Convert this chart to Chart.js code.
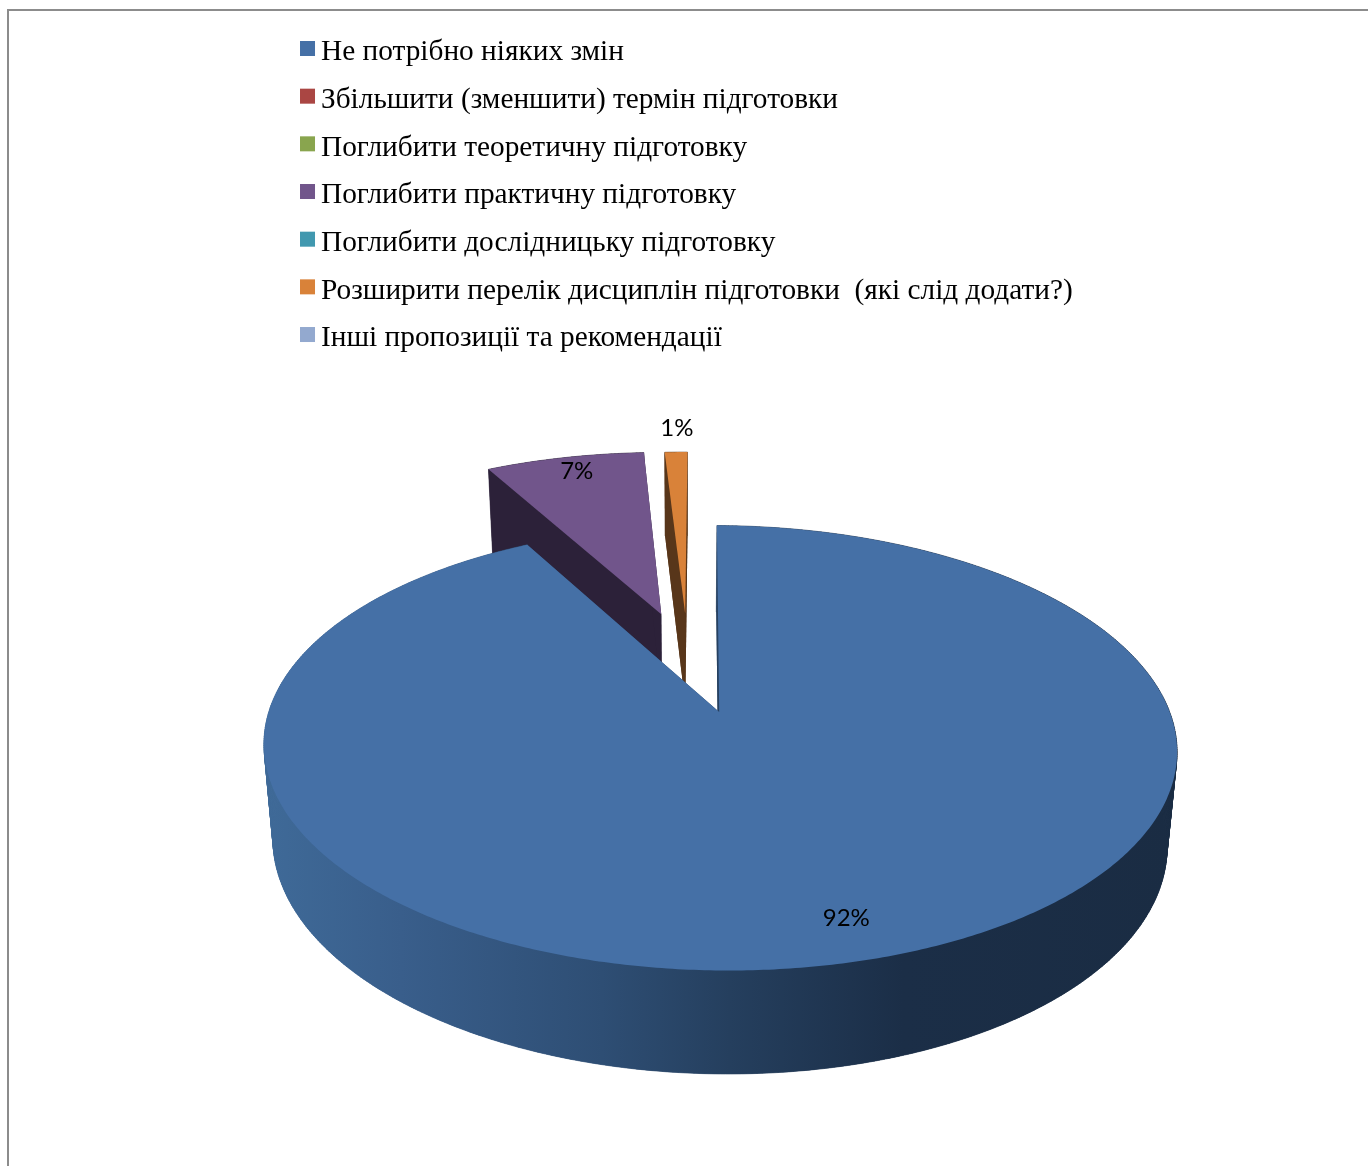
<!DOCTYPE html>
<html><head><meta charset="utf-8">
<style>html,body{margin:0;padding:0;background:#fff}canvas{display:block}</style>
<script src="https://cdn.jsdelivr.net/npm/chart.js@4"></script>
</head><body>
<canvas id="c" width="1368" height="1166"></canvas>
<script>
const categories = ["Не потрібно ніяких змін","Збільшити (зменшити) термін підготовки","Поглибити теоретичну підготовку","Поглибити практичну підготовку","Поглибити дослідницьку підготовку","Розширити перелік дисциплін підготовки  (які слід додати?)","Інші пропозиції та рекомендації"];
const percentValues = [92,0,0,7,0,1,0];
const sliceColors = ["#4570A6","#AA4643","#89A54E","#71558B","#4198AF","#D98239","#93A9CF"];
const wallColors = [null,"#552826","#44522A","#2C2139","#20505C","#58361A","#4A5568"];

// layout constants of the 3D view
const PERSP = -0.162;
const TOP = {cx:720.5, cy:748, rx:456.5, ry:222.5, s:8};
const BOT = {cx:720, cy:843, rx:447, ry:231, s:8};
const EXPLODE = {3:{d:0.5035,a:-15},5:{d:0.494,a:-8.5}};
const LABEL_POS = {0:{r:0.858,a:-1.8}, 3:{r:0.897,a:0.57}, 5:{r:1.172,a:0.3}};
const DRAW_ORDER = [3,5,0];

function proj(u,v,e){
  const d = 1+PERSP*v, X = u*Math.sqrt(1-PERSP*PERSP)/d, Y = (v+PERSP)/d;
  return [e.cx+e.rx*X+e.s*Y, e.cy+e.ry*Y];
}
function shift(i){
  const ex = EXPLODE[i]; if(!ex) return [0,0];
  const r = ex.a*Math.PI/180;
  return [ex.d*Math.sin(r), -ex.d*Math.cos(r)];
}
function slicePts(arc,i,e){
  const [du,dv] = shift(i), pts=[];
  const n = Math.max(2,Math.ceil((arc.endAngle-arc.startAngle)/0.01));
  for(let k=0;k<=n;k++){
    const a = arc.startAngle+(arc.endAngle-arc.startAngle)*k/n;
    pts.push(proj(du+Math.cos(a),dv+Math.sin(a),e));
  }
  return {apex:proj(du,dv,e),pts};
}
function poly(ctx,pts){ctx.beginPath();pts.forEach((p,i)=>i?ctx.lineTo(p[0],p[1]):ctx.moveTo(p[0],p[1]));ctx.closePath();}

const pie3d = {
  id:'pie3d',
  afterLayout(chart){ chart.legend.right = chart.width; },
  beforeDraw(chart){
    const ctx=chart.ctx; ctx.save();
    ctx.strokeStyle='#8c8c8c'; ctx.lineWidth=2;
    ctx.beginPath(); ctx.moveTo(8,1166); ctx.lineTo(8,10); ctx.lineTo(1368,10); ctx.stroke();
    ctx.restore();
  },
  beforeDatasetDraw(chart,args){
    const ctx=chart.ctx, arcs=args.meta.data;
    ctx.save();
    const grad=ctx.createLinearGradient(264,0,1177,0);
    [[0,'#3F6A98'],[0.15,'#395E8B'],[0.37,'#2E4E74'],[0.51,'#253F5E'],[0.70,'#1B2E47'],[1,'#1A2C43']].forEach(s=>grad.addColorStop(s[0],s[1]));
    DRAW_ORDER.forEach(i=>{
      const arc=arcs[i]; if(!percentValues[i]) return;
      const t=slicePts(arc,i,TOP), b=slicePts(arc,i,BOT);
      const wall = i===0?grad:wallColors[i];
      ctx.fillStyle=wall; ctx.strokeStyle=wall; ctx.lineWidth=0.6;
      poly(ctx,[b.apex,...b.pts]); ctx.fill();
      for(let k=0;k<t.pts.length-1;k++){
        poly(ctx,[t.pts[k],t.pts[k+1],b.pts[k+1],b.pts[k]]); ctx.fill(); ctx.stroke();
      }
      poly(ctx,[t.apex,t.pts[0],b.pts[0],b.apex]); ctx.fill();
      poly(ctx,[t.apex,t.pts[t.pts.length-1],b.pts[b.pts.length-1],b.apex]); ctx.fill();
      ctx.fillStyle=sliceColors[i];
      poly(ctx,[t.apex,...t.pts]); ctx.fill();
    });
    ctx.restore();
    return false;
  },
  afterDatasetsDraw(chart){
    const ctx=chart.ctx, arcs=chart.getDatasetMeta(0).data;
    ctx.save();
    ctx.font='24px Lato'; ctx.fillStyle='#000'; ctx.textAlign='center'; ctx.textBaseline='middle';
    arcs.forEach((arc,i)=>{
      if(!percentValues[i]) return;
      const [du,dv]=shift(i), lp=LABEL_POS[i], m=(arc.startAngle+arc.endAngle)/2+lp.a*Math.PI/180;
      const p=proj(du+lp.r*Math.cos(m),dv+lp.r*Math.sin(m),TOP);
      ctx.fillText(percentValues[i]+'%',p[0],p[1]);
    });
    ctx.restore();
  },
  afterDraw(chart){
    const ctx=chart.ctx, lg=chart.legend;
    ctx.save();
    lg.legendHitBoxes.forEach((h,i)=>{
      ctx.fillStyle=sliceColors[i];
      ctx.fillRect(h.left-5.33,h.top+3,15,15);
    });
    ctx.restore();
  }
};

new Chart(document.getElementById('c'),{
  type:'pie',
  data:{labels:categories,datasets:[{data:percentValues,backgroundColor:sliceColors,borderWidth:0}]},
  options:{
    responsive:false,animation:false,rotation:0.65,
    layout:{padding:{left:287,top:19.66}},
    plugins:{
      tooltip:{enabled:false},
      legend:{position:'left',align:'start',
        labels:{color:'#000',boxWidth:1,boxHeight:1,padding:18.34,font:{family:'"Liberation Serif"',size:29.33}}}
    }
  },
  plugins:[pie3d]
});
</script>
</body></html>
